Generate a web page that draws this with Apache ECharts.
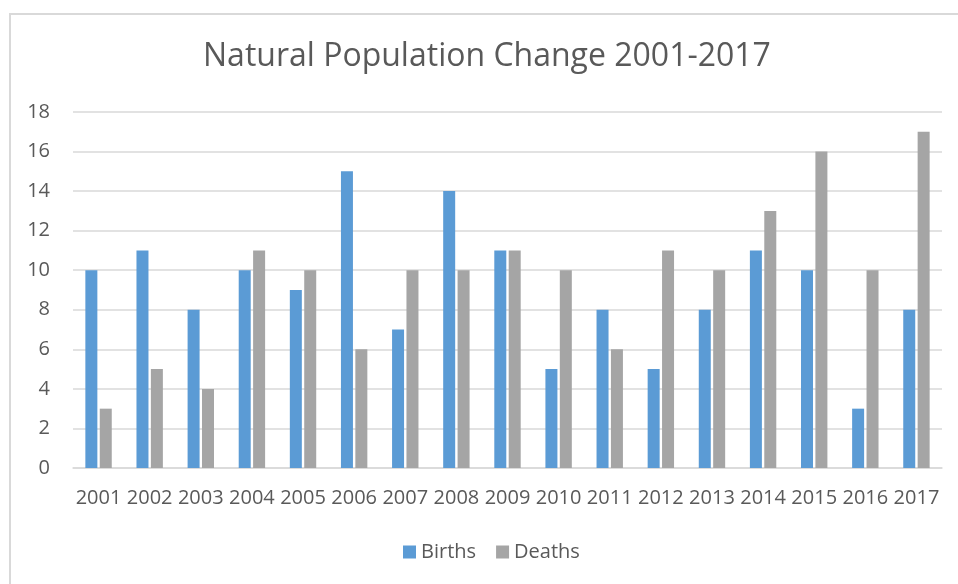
<!DOCTYPE html>
<html>
<head>
<meta charset="utf-8">
<script src="https://cdn.jsdelivr.net/npm/echarts@6/dist/echarts.min.js"></script>
<style>
  html, body { margin: 0; padding: 0; background: #fff; overflow: hidden; }
  #frame { position: absolute; left: 9px; top: 13px; width: 1000px; height: 1000px; border: 2px solid #d9d9d9; box-sizing: border-box; }
  #myChart { position: absolute; left: 0; top: 0; width: 958px; height: 584px; }
</style>
</head>
<body>
<div id="frame"></div>
<div id="myChart"></div>
<script>
  // data
  var years = ['2001', '2002', '2003', '2004', '2005', '2006', '2007', '2008', '2009',
               '2010', '2011', '2012', '2013', '2014', '2015', '2016', '2017'];
  var births = [10, 11, 8, 10, 9, 15, 7, 14, 11, 5, 8, 5, 8, 11, 10, 3, 8];
  var deaths = [3, 5, 4, 11, 10, 6, 10, 10, 11, 10, 6, 11, 10, 13, 16, 10, 17];
  var legendNames = ['Births', 'Deaths'];

  var font = '"Open Sans", sans-serif';
  var myChart = echarts.init(document.getElementById('myChart'));

  var option = {
    animation: false,
    title: {
      text: 'Natural Population Change 2001-2017',
      left: 203,
      top: 41,
      padding: 0,
      textStyle: {
        color: '#595959',
        fontFamily: font,
        fontWeight: 'normal',
        fontSize: 32
      }
    },
    legend: {
      data: legendNames,
      left: 403,
      top: 542,
      padding: 0,
      itemWidth: 13,
      itemHeight: 13,
      itemGap: 20,
      icon: 'rect',
      textStyle: {
        color: '#595959',
        fontFamily: font,
        fontSize: 20
      }
    },
    grid: {
      left: 73,
      right: 16,
      top: 112,
      bottom: 116
    },
    xAxis: {
      type: 'category',
      data: years,
      axisLine: { show: true, lineStyle: { color: '#d9d9d9', width: 1.5 } },
      axisTick: { show: false },
      axisLabel: {
        interval: 0,
        margin: 20,
        color: '#595959',
        fontFamily: font,
        fontSize: 20
      }
    },
    yAxis: {
      type: 'value',
      min: 0,
      max: 18,
      interval: 2,
      axisLine: { show: false },
      axisTick: { show: false },
      splitLine: { lineStyle: { color: '#d9d9d9', width: 1.5 } },
      axisLabel: {
        margin: 23,
        color: '#595959',
        fontFamily: font,
        fontSize: 20
      }
    },
    series: [
      {
        name: legendNames[0],
        type: 'bar',
        data: births,
        barWidth: 12,
        barGap: '20%',
        itemStyle: { color: '#5b9bd5' }
      },
      {
        name: legendNames[1],
        type: 'bar',
        data: deaths,
        barWidth: 12,
        itemStyle: { color: '#a5a5a5' }
      }
    ]
  };
  myChart.setOption(option);
</script>
</body>
</html>
